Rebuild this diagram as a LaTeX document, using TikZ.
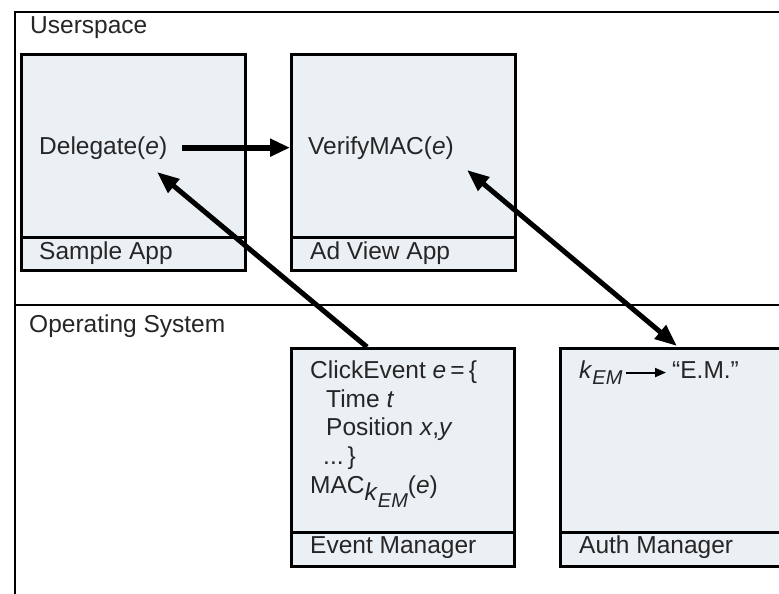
\documentclass[tikz,border=0pt]{standalone}
\usepackage{fontspec}
\setmainfont{Liberation Sans}
\usetikzlibrary{arrows.meta}
\definecolor{boxfill}{RGB}{235,240,244}
\definecolor{inkc}{RGB}{38,38,38}
\newcommand{\kemsub}{\textit{k}\raisebox{-0.28em}{\fontsize{20}{20}\selectfont\textit{EM}}}
\begin{document}
\begin{tikzpicture}[x=1pt,y=-1pt,
  box/.style={draw=black, line width=2.8pt, fill=boxfill, inner sep=0pt, anchor=north west},
  txt/.style={anchor=base west, inner sep=0pt, text=inkc, font=\fontsize{24.5}{29}\selectfont},
  frame/.style={draw=black, line width=2.4pt},
  conn/.style={draw=black, line width=6pt, -{Triangle[length=20pt,width=17pt]}},
  dconn/.style={draw=black, line width=5pt, {Triangle[length=22pt,width=17pt]}-{Triangle[length=22pt,width=17pt]}},
  small/.style={draw=black, line width=2pt, -{Triangle[length=11pt,width=9pt]}}]
\useasboundingbox (0,0) rectangle (779,594);
\clip (0,0) rectangle (779,594);
\fill[white] (0,0) rectangle (779,594);
% frame
\draw[frame] (15,600) -- (15,12) -- (800,12);
\draw[frame] (15,305) -- (800,305);
\node[txt] (user) at (30,34) {Userspace};
\node[txt] (os) at (29,332) {Operating System};
% boxes
\node[box, minimum width=224pt, minimum height=216pt] (sample) at (20,53) {};
\node[box, minimum width=224pt, minimum height=33pt, anchor=south west] (samplelbl) at (sample.south west) {};
\node[box, minimum width=224pt, minimum height=216pt] (adview) at (290,53) {};
\node[box, minimum width=224pt, minimum height=33pt, anchor=south west] (adviewlbl) at (adview.south west) {};
\node[box, minimum width=223pt, minimum height=218pt] (event) at (290,347) {};
\node[box, minimum width=223pt, minimum height=34pt, anchor=south west] (eventlbl) at (event.south west) {};
\node[box, minimum width=260pt, minimum height=218pt] (auth) at (559,347) {};
\node[box, minimum width=260pt, minimum height=34pt, anchor=south west] (authlbl) at (auth.south west) {};
% labels
\node[txt] (samplet) at (39,259) {Sample App};
\node[txt] (adviewt) at (310,259) {Ad View App};
\node[txt] (eventt) at (310,553) {Event Manager};
\node[txt] (autht) at (579,553) {Auth Manager};
% contents
\node[txt] (deleg) at (39,154) {Delegate(\textit{e})};
\node[txt] (verify) at (308,154) {VerifyMAC(\textit{e})};
\node[txt] (click) at (310,378) {ClickEvent \textit{e}\,=\,\{};
\node[txt] (time) at (326,407) {Time \textit{t}};
\node[txt] (pos) at (326,435) {Position \textit{x},\textit{y}};
\node[txt] (dots) at (323,464) {...\,\}};
\node[txt] (mac) at (310,493) {MAC\raisebox{-0.3em}{\kemsub}(\textit{e})};
\node[txt] (kem) at (579,378) {\kemsub};
\node[txt] (em) at (672,378) {“E.M.”};
% connectors
\coordinate (evtop) at (367,347);
\coordinate (delegtip) at (157,172);
\coordinate (verifytip) at (467,170);
\coordinate (authtop) at (677,346);
\draw[conn, shorten <=15pt] (deleg.east) -- (deleg.east -| adview.west);
\draw[conn, line width=5pt, -{Triangle[length=22pt,width=17pt]}] (evtop) -- (delegtip);
\draw[dconn] (verifytip) -- (authtop);
\draw[small, shorten <=3pt, shorten >=6pt] (kem.east) -- (kem.east -| em.west);
\end{tikzpicture}
\end{document}
